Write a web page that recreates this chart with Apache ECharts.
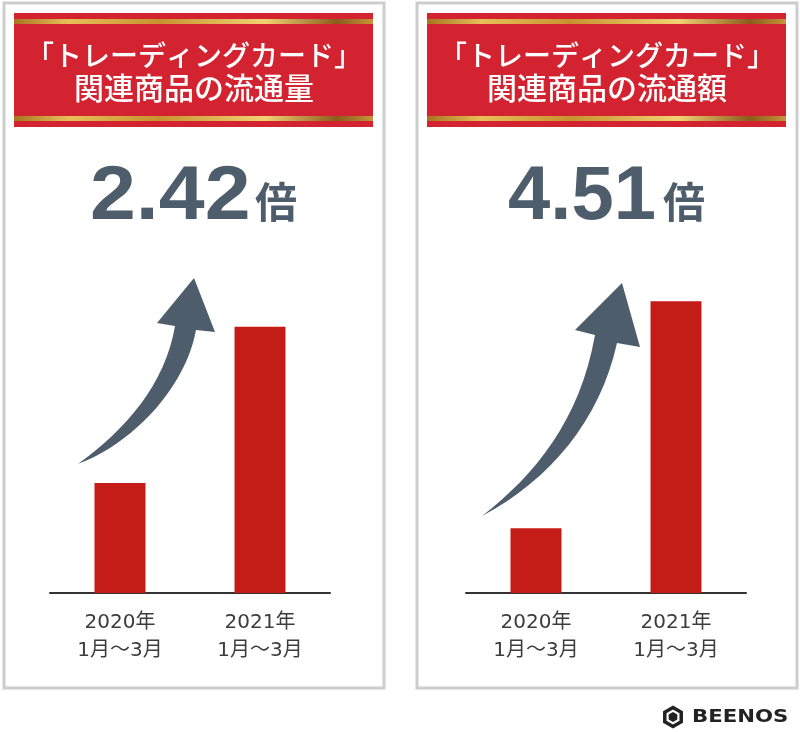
<!DOCTYPE html>
<html>
<head>
<meta charset="utf-8">
<script src="https://cdn.jsdelivr.net/npm/echarts@6/dist/echarts.min.js"></script>
<style>
html,body{margin:0;padding:0;background:#fff;}
#c{width:800px;height:732px;}
</style>
</head>
<body>
<div id="c"></div>
<script>
// ---- data ----
const categories = ['2020年\n1月〜3月', '2021年\n1月〜3月'];
const volumeValues = [1, 2.42];   // 流通量 (2020 = 1)
const amountValues = [1, 4.51];   // 流通額 (2020 = 1)
const titleLine1 = '「トレーディングカード」';
const titleLine2 = ['関連商品の流通量', '関連商品の流通額'];
const ratioLabels = ['2.42', '4.51'];
const unitLabel = '倍';

// ---- styles ----
const RED = '#d42330';
const BAR = '#c41c17';
const SLATE = '#4e5d6b';
const JP = '"Noto Sans CJK JP", "Noto Sans", sans-serif';

// curved arrow shape (decoration)
const CurvedArrow = echarts.graphic.extendShape({
  shape: {p: null},
  buildPath: function (ctx, shape) {
    const p = shape.p;
    ctx.moveTo(p[0], p[1]);
    ctx.bezierCurveTo(p[2], p[3], p[4], p[5], p[6], p[7]);
    ctx.lineTo(p[8], p[9]);
    ctx.lineTo(p[10], p[11]);
    ctx.lineTo(p[12], p[13]);
    ctx.lineTo(p[14], p[15]);
    ctx.bezierCurveTo(p[16], p[17], p[18], p[19], p[0], p[1]);
    ctx.closePath();
  }
});
echarts.graphic.registerShape('curvedArrow', CurvedArrow);

const gold = new echarts.graphic.LinearGradient(0, 0, 1, 0, [
  {offset: 0, color: '#a8741f'},
  {offset: 0.15, color: '#e7bf58'},
  {offset: 0.4, color: '#c8922f'},
  {offset: 0.7, color: '#f1d272'},
  {offset: 0.9, color: '#8a5b1c'},
  {offset: 1, color: '#c8953a'}
]);

function panel(x0, idx) {
  const w = 380;
  const cx = x0 + w / 2;
  const bx = x0 + 10, bw = 359;
  return [
    {type: 'rect', shape: {x: x0, y: 3, width: w, height: 685}, style: {fill: '#fff', stroke: '#cdcdcd', lineWidth: 3}, z: 0},
    {type: 'rect', shape: {x: bx, y: 13, width: bw, height: 114}, style: {fill: RED}, z: 1},
    {type: 'rect', shape: {x: bx, y: 19, width: bw, height: 5}, style: {fill: gold}, z: 2},
    {type: 'rect', shape: {x: bx, y: 116, width: bw, height: 5}, style: {fill: gold}, z: 2},
    {type: 'text', x: cx, y: 55, style: {text: titleLine1, fill: '#fff', font: '500 28px ' + JP, textAlign: 'center', textVerticalAlign: 'middle'}, z: 3},
    {type: 'text', x: cx, y: 88, style: {text: titleLine2[idx], fill: '#fff', font: '500 30px ' + JP, textAlign: 'center', textVerticalAlign: 'middle'}, z: 3}
  ];
}

const NUMFONT = 'bold 76px "Liberation Sans", Arial, sans-serif';
const UNITFONT = 'bold 42px ' + JP;
const bigText = [
  {type: 'text', x: 90, y: 160, scaleX: 1.085, style: {text: ratioLabels[0], fill: SLATE, font: NUMFONT, textAlign: 'left', textVerticalAlign: 'top'}, z: 3},
  {type: 'text', x: 255, y: 181, style: {text: unitLabel, fill: SLATE, font: UNITFONT, textAlign: 'left', textVerticalAlign: 'top'}, z: 3},
  {type: 'text', x: 508, y: 160, style: {text: ratioLabels[1], fill: SLATE, font: NUMFONT, textAlign: 'left', textVerticalAlign: 'top'}, z: 3},
  {type: 'text', x: 663, y: 181, style: {text: unitLabel, fill: SLATE, font: UNITFONT, textAlign: 'left', textVerticalAlign: 'top'}, z: 3}
];

const arrows = [
  {type: 'curvedArrow', shape: {p: [78,464, 125,430, 165,385, 175,326, 157,323, 194,278, 215,332, 196,330, 185,390, 130,445]}, style: {fill: SLATE}, z: 3},
  {type: 'curvedArrow', shape: {p: [482,516, 535,475, 580,420, 595,335, 575,330, 622,283, 640,347, 617,343, 600,420, 550,480]}, style: {fill: SLATE}, z: 3}
];

function hexPts(cx, cy, r) {
  const pts = [];
  for (let i = 0; i < 6; i++) {
    const a = Math.PI / 3 * i - Math.PI / 2;
    pts.push([cx + r * Math.cos(a), cy + r * Math.sin(a)]);
  }
  return pts;
}
const logo = [
  {type: 'polygon', shape: {points: hexPts(673, 717, 9.5)}, style: {fill: 'none', stroke: '#222', lineWidth: 3.5}, z: 3},
  {type: 'polygon', shape: {points: hexPts(673, 717, 5)}, style: {fill: '#222'}, z: 3},
  {type: 'text', x: 692, y: 717, scaleX: 1.18, style: {text: 'BEENOS', fill: '#222', font: 'bold 18px "DejaVu Sans", sans-serif', textAlign: 'left', textVerticalAlign: 'middle'}, z: 3}
];

const axisCommon = {
  type: 'category',
  data: categories,
  axisTick: {show: false},
  axisLine: {lineStyle: {color: '#333', width: 2}},
  axisLabel: {color: '#3c3c3c', fontSize: 20, lineHeight: 28, margin: 16, fontFamily: '"DejaVu Sans", "Noto Sans CJK JP", sans-serif'}
};
const yCommon = {type: 'value', min: 0, show: false, splitLine: {show: false}};

const chart = echarts.init(document.getElementById('c'), null, {renderer: 'canvas'});
chart.setOption({
  animation: false,
  backgroundColor: '#fff',
  grid: [
    {left: 50, width: 280, top: 263, bottom: 139},
    {left: 466, width: 280, top: 263, bottom: 139}
  ],
  xAxis: [
    Object.assign({gridIndex: 0}, axisCommon),
    Object.assign({gridIndex: 1}, axisCommon)
  ],
  yAxis: [
    Object.assign({gridIndex: 0, max: 3}, yCommon),
    Object.assign({gridIndex: 1, max: 5.1}, yCommon)
  ],
  series: [
    {type: 'bar', xAxisIndex: 0, yAxisIndex: 0, data: volumeValues, barWidth: 51, itemStyle: {color: BAR}, z: 2},
    {type: 'bar', xAxisIndex: 1, yAxisIndex: 1, data: amountValues, barWidth: 51, itemStyle: {color: BAR}, z: 2}
  ],
  graphic: {elements: [].concat(panel(4, 0), panel(417, 1), bigText, arrows, logo).map(e => Object.assign({silent: true}, e))}
});
</script>
</body>
</html>
